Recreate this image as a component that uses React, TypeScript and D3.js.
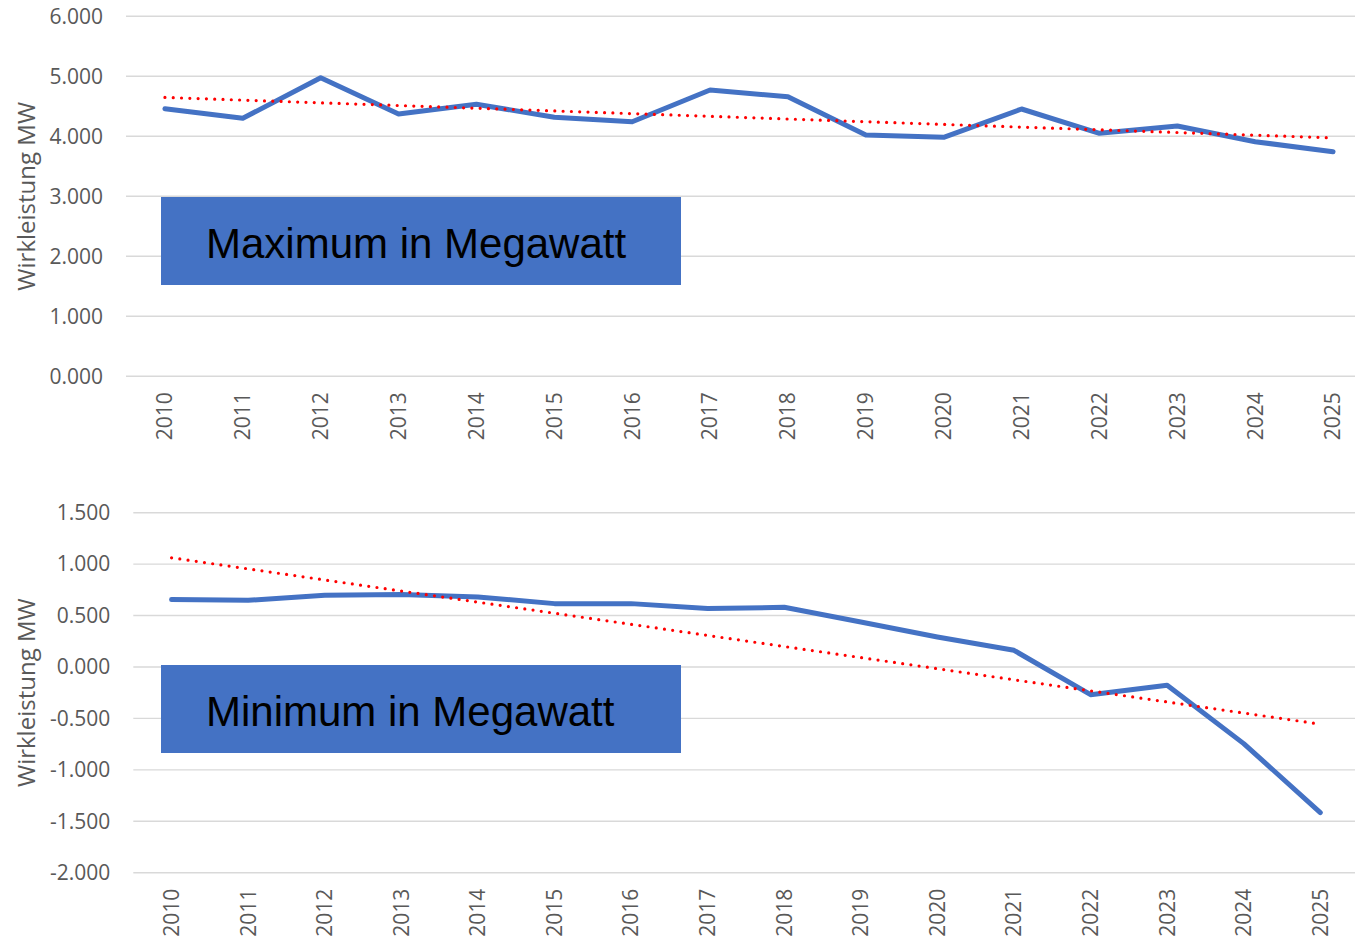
import React from 'react';
import * as d3 from 'd3';

// years on the x axis
const years = ['2010', '2011', '2012', '2013', '2014', '2015', '2016', '2017',
    '2018', '2019', '2020', '2021', '2022', '2023', '2024', '2025'];

// maximum active power per year
const maxValues = [4.460, 4.300, 4.977, 4.372, 4.533, 4.317, 4.243, 4.772,
    4.660, 4.022, 3.983, 4.455, 4.050, 4.172, 3.910, 3.743];

// minimum active power per year
const minValues = [0.655, 0.648, 0.697, 0.704, 0.681, 0.616, 0.616, 0.568,
    0.580, 0.437, 0.292, 0.162, -0.269, -0.178, -0.745, -1.415];

const maxTicks = [0, 1, 2, 3, 4, 5, 6];
const minTicks = [-2, -1.5, -1, -0.5, 0, 0.5, 1, 1.5];

const axisTitle = 'Wirkleistung MW';
const maxLabel = 'Maximum in Megawatt';
const minLabel = 'Minimum in Megawatt';

const loc = d3.formatLocale({
    decimal: '.',
    thousands: ',',
    grouping: [3],
    currency: ['', ''],
    minus: '-'
});
const tickFmt = loc.format('.3f');

const BLUE = '#4472C4';
const GRID = '#d9d9d9';
const TEXT = '#595959';
const FONT = '"Open Sans", "Noto Sans", sans-serif';

// least squares trend over the year index
function trend(values: number[]) {
    const n = values.length;
    const mx = d3.mean(values, (_, i) => i) as number;
    const my = d3.mean(values) as number;
    let sxy = 0, sxx = 0;
    values.forEach((v, i) => { sxy += (i - mx) * (v - my); sxx += (i - mx) ** 2; });
    const b = sxy / sxx;
    return d3.range(n).map(i => my + b * (i - mx));
}

type PanelProps = {
    values: number[];
    ticks: number[];
    xRange: [number, number];
    yRange: [number, number];
    label: string;
    box: { x: number; y: number; w: number; h: number };
};

const Panel = ({ values, ticks, xRange, yRange, label, box }: PanelProps) => {
    const x = d3.scaleBand().domain(years).range(xRange);
    const y = d3.scaleLinear().domain(d3.extent(ticks) as [number, number]).range(yRange);
    const cx = (d: string) => (x(d) as number) + x.bandwidth() / 2;

    const line = d3.line<number>()
        .x((_, i) => cx(years[i]))
        .y(d => y(d));

    const tr = trend(values);
    const left = xRange[0];
    const bottom = yRange[0];
    const midY = (yRange[0] + yRange[1]) / 2;

    return (
        <g>
            {ticks.map(t => (
                <g key={t}>
                    <line x1={left} x2={1400} y1={y(t)} y2={y(t)} stroke={GRID} strokeWidth={1.4} />
                    <text x={left - 23} y={y(t)} dy="0.35em" textAnchor="end"
                        fill={TEXT} fontSize={21} fontFamily={FONT}>{tickFmt(t)}</text>
                </g>
            ))}
            <text transform={`translate(27,${midY}) rotate(-90)`} dy="0.35em" textAnchor="middle"
                fill={TEXT} fontSize={24} fontFamily={FONT}>{axisTitle}</text>
            {years.map(yr => (
                <text key={yr} transform={`translate(${cx(yr)},${bottom + 16}) rotate(-90)`}
                    dy="0.35em" textAnchor="end" fill={TEXT} fontSize={21} fontFamily={FONT}>{yr}</text>
            ))}
            <rect x={box.x} y={box.y} width={box.w} height={box.h} fill={BLUE} />
            <text x={box.x + 45} y={box.y + 61} fontSize={42}
                fontFamily='"Liberation Sans", Arial, sans-serif' fill="#000">{label}</text>
            <path d={line(values) || ''} fill="none" stroke={BLUE} strokeWidth={5}
                strokeLinejoin="round" strokeLinecap="round" />
            <path d={line(tr) || ''} fill="none" stroke="#ff0000" strokeWidth={3.2}
                strokeDasharray="0 8.3" strokeLinecap="round" />
        </g>
    );
};

export default function App() {
    return (
        <div style={{ position: 'absolute', left: 0, top: 0 }}>
            <svg width={1355} height={937} style={{ display: 'block', background: '#fff' }}>
                <Panel values={maxValues} ticks={maxTicks} xRange={[126, 1372]} yRange={[376.3, 16.3]}
                    label={maxLabel} box={{ x: 161, y: 197, w: 520, h: 88 }} />
                <Panel values={minValues} ticks={minTicks} xRange={[133.3, 1358.6]} yRange={[872.7, 512.7]}
                    label={minLabel} box={{ x: 161, y: 665, w: 520, h: 88 }} />
            </svg>
        </div>
    );
}
